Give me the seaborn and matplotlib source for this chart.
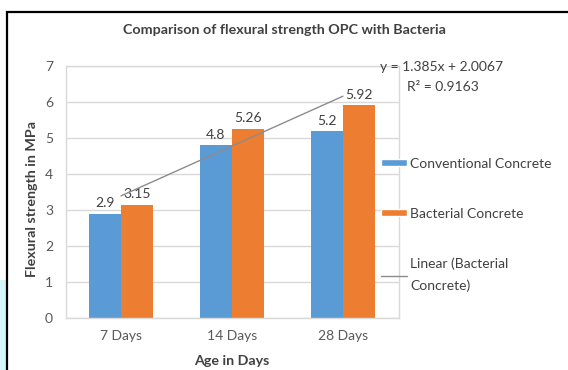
import numpy as np
import pandas as pd
import matplotlib
matplotlib.use("Agg")
import matplotlib.pyplot as plt
from matplotlib.patches import Rectangle, Patch
from matplotlib.lines import Line2D
import seaborn as sns

# Data
ages = ["7 Days", "14 Days", "28 Days"]
conventional = [2.9, 4.8, 5.2]
bacterial = [3.15, 5.26, 5.92]
series_names = ["Conventional Concrete", "Bacterial Concrete"]
trend_label = "Linear (Bacterial\nConcrete)"
equation_text = "y = 1.385x + 2.0067"
r2_text = "R\u00b2 = 0.9163"
yticks = [0, 1, 2, 3, 4, 5, 6, 7]

colors = ["#5B9BD5", "#ED7D31"]
text_gray = "#404040"
tick_gray = "#595959"
trend_gray = "#8c8c8c"

sns.set_theme(style="white")
plt.rcParams["font.family"] = ["Lato", "DejaVu Sans"]

df = pd.DataFrame({
    "Age": ages * 2,
    "Strength": conventional + bacterial,
    "Series": [series_names[0]] * 3 + [series_names[1]] * 3,
})

fig = plt.figure(figsize=(5.68, 3.70), dpi=100)
fig.patch.set_facecolor("white")
W, H = 568, 370
ax = fig.add_axes([65.5 / W, 1 - 318 / H, (398.5 - 65.5) / W, (318 - 66) / H])

sns.barplot(data=df, x="Age", y="Strength", hue="Series", order=ages,
            hue_order=series_names, palette=colors, width=0.58,
            saturation=1, linewidth=0, ax=ax, legend=False, zorder=2)

for cont in ax.containers:
    ax.bar_label(cont, labels=[f"{v:g}" for v in cont.datavalues],
                 padding=3, fontsize=10, color=text_gray)

# Linear trend of the bacterial series
xs = np.arange(1, len(ages) + 1)
slope, intercept = np.polyfit(xs, bacterial, 1)
ax.plot(xs - 1, slope * xs + intercept, color=trend_gray, lw=1.0, zorder=3)

ax.set_xlim(-0.5, 2.5)
ax.set_ylim(0, 7)
ax.set_yticks(yticks)
ax.yaxis.grid(True, color="#d9d9d9", lw=1, zorder=0)
ax.set_axisbelow(True)
for s in ax.spines.values():
    s.set_color("#d9d9d9")
    s.set_linewidth(1)
ax.tick_params(axis="both", length=0, labelsize=10, labelcolor=tick_gray, pad=9)
ax.set_xlabel("")
ax.set_ylabel("")

# Titles and axis labels
fig.text(284 / W, 1 - 30 / H, "Comparison of flexural strength OPC with Bacteria",
         ha="center", va="center", fontsize=10.3, fontweight="bold", color=text_gray)
fig.text(32 / W, 1 - 199 / H, "Flexural strength in MPa", rotation=90,
         ha="center", va="center", fontsize=10.3, fontweight="bold", color=text_gray)
fig.text(232 / W, 1 - 361 / H, "Age in Days", ha="center", va="center",
         fontsize=10.3, fontweight="bold", color=text_gray)

# Trendline equation
fig.text(442 / W, 1 - 67 / H, equation_text, ha="center", va="center",
         fontsize=10, color=text_gray)
fig.text(443 / W, 1 - 87 / H, r2_text, ha="center", va="center",
         fontsize=10, color=text_gray)

# Legend
handles = [Patch(facecolor=colors[0]), Patch(facecolor=colors[1]),
           Line2D([0], [0], color=trend_gray, lw=1.0)]
leg = fig.legend(handles, series_names + [trend_label], loc="upper left",
                 bbox_to_anchor=(368 / W, 1 - 145 / H), frameon=False,
                 fontsize=10, labelcolor=text_gray, handlelength=1.9,
                 handleheight=0.45, handletextpad=0.25, labelspacing=2.75)
for t in leg.get_texts():
    t.set_linespacing(1.9)

# Chart frame and page edge
fig.patches.append(Rectangle((7 / W, -0.1), 1.2, 1 - 12 / H + 0.1,
                             transform=fig.transFigure, fill=False,
                             edgecolor="black", lw=1.6, zorder=10))
fig.patches.append(Rectangle((0, 0), 6 / W, 90 / H, transform=fig.transFigure,
                             facecolor="#d4f4f8", edgecolor="none", zorder=9))

fig.savefig("out.png", dpi=100, facecolor="white")
